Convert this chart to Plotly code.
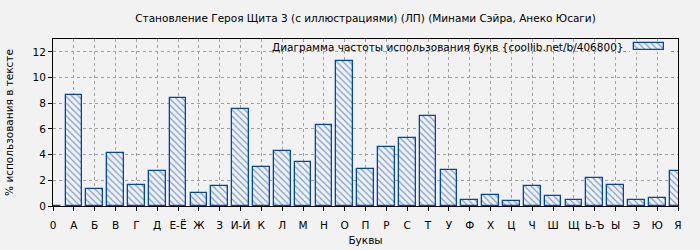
import plotly.graph_objects as go

categories = ["0", "А", "Б", "В", "Г", "Д", "Е-Ё", "Ж", "З", "И-Й", "К", "Л", "М", "Н", "О",
              "П", "Р", "С", "Т", "У", "Ф", "Х", "Ц", "Ч", "Ш", "Щ", "Ь-Ъ", "Ы", "Э", "Ю", "Я"]
values = [0, 8.65, 1.32, 4.13, 1.64, 2.73, 8.42, 1.01, 1.56, 7.56, 3.04, 4.29, 3.43, 6.31, 11.30,
          2.88, 4.60, 5.30, 7.01, 2.81, 0.47, 0.86, 0.39, 1.56, 0.78, 0.47, 2.18, 1.64, 0.47, 0.62, 2.73]
y_ticks = [0, 2, 4, 6, 8, 10, 12]

title = "Становление Героя Щита 3 (с иллюстрациями) (ЛП) (Минами Сэйра, Анеко Юсаги)"
series_name = "Диаграмма частоты использования букв {coollib.net/b/406800}"

BLUE = "#0044bb"
BG = "#f2f2f2"
FONT = "DejaVu Sans"
FS = 10.5

xpos = list(range(len(categories)))

pattern = dict(shape="\\", fgcolor=BLUE, bgcolor=BG, size=4.5, solidity=0.28)

fig = go.Figure()
fig.add_trace(go.Bar(
    x=xpos, y=values, width=0.8,
    marker=dict(color=BG, line=dict(color=BLUE, width=1.3), pattern=pattern),
    showlegend=False, name=series_name,
))
# legend sample
fig.add_trace(go.Bar(
    x=[0], y=[1], width=1, xaxis="x2", yaxis="y2", cliponaxis=False,
    marker=dict(color=BG, line=dict(color=BLUE, width=1.3), pattern=pattern),
    showlegend=False, hoverinfo="skip",
))

L, R, T, B = 53, 22, 39, 44
W, H = 700, 250
pw = W - L - R
ph = H - T - B

def px_to_paper_x(px):
    return (px - L) / pw

def px_to_paper_y(py):
    return (H - B - py) / ph

fig.update_layout(
    width=W, height=H,
    margin=dict(l=L, r=R, t=T, b=B, autoexpand=False),
    paper_bgcolor=BG, plot_bgcolor=BG,
    font=dict(family=FONT, size=FS, color="#000"),
    title=dict(text=title, x=0.5, xref="paper", y=1 - 18 / H, yref="container",
               xanchor="center", yanchor="middle", font=dict(size=FS)),
    bargap=0,
    xaxis=dict(
        range=[0, 30], tickmode="array", tickvals=xpos, ticktext=categories,
        showgrid=True, gridcolor="#a0a0a0", griddash="dot", gridwidth=1,
        showline=True, linecolor="#000", linewidth=1, mirror=True,
        ticks="outside", ticklen=4, tickcolor="#000", zeroline=False,
        tickfont=dict(size=FS), ticklabelstandoff=5, automargin=False,
        title=dict(text="Буквы", standoff=7, font=dict(size=FS)), fixedrange=True,
    ),
    yaxis=dict(
        range=[0, 13], tickmode="array", tickvals=y_ticks,
        showgrid=True, gridcolor="#a0a0a0", griddash="dot", gridwidth=1,
        showline=True, linecolor="#000", linewidth=1, mirror=True,
        ticks="outside", ticklen=4, tickcolor="#000", zeroline=False,
        tickfont=dict(size=FS), automargin=False,
        title=dict(text="% использования в тексте", standoff=16, font=dict(size=FS)),
    ),
    xaxis2=dict(domain=[px_to_paper_x(630), px_to_paper_x(668)], anchor="y2",
                range=[-0.5 - 4 / 30, 0.5 + 4 / 30], visible=False, fixedrange=True),
    yaxis2=dict(domain=[px_to_paper_y(52), px_to_paper_y(41)], anchor="x2",
                range=[-2 / 7, 1 + 2 / 7], visible=False, fixedrange=True),
    annotations=[dict(text=series_name, xref="paper", yref="paper",
                      x=px_to_paper_x(626), y=px_to_paper_y(47),
                      xanchor="right", yanchor="middle", showarrow=False,
                      font=dict(size=FS))],
)

fig.write_html("out.html")
